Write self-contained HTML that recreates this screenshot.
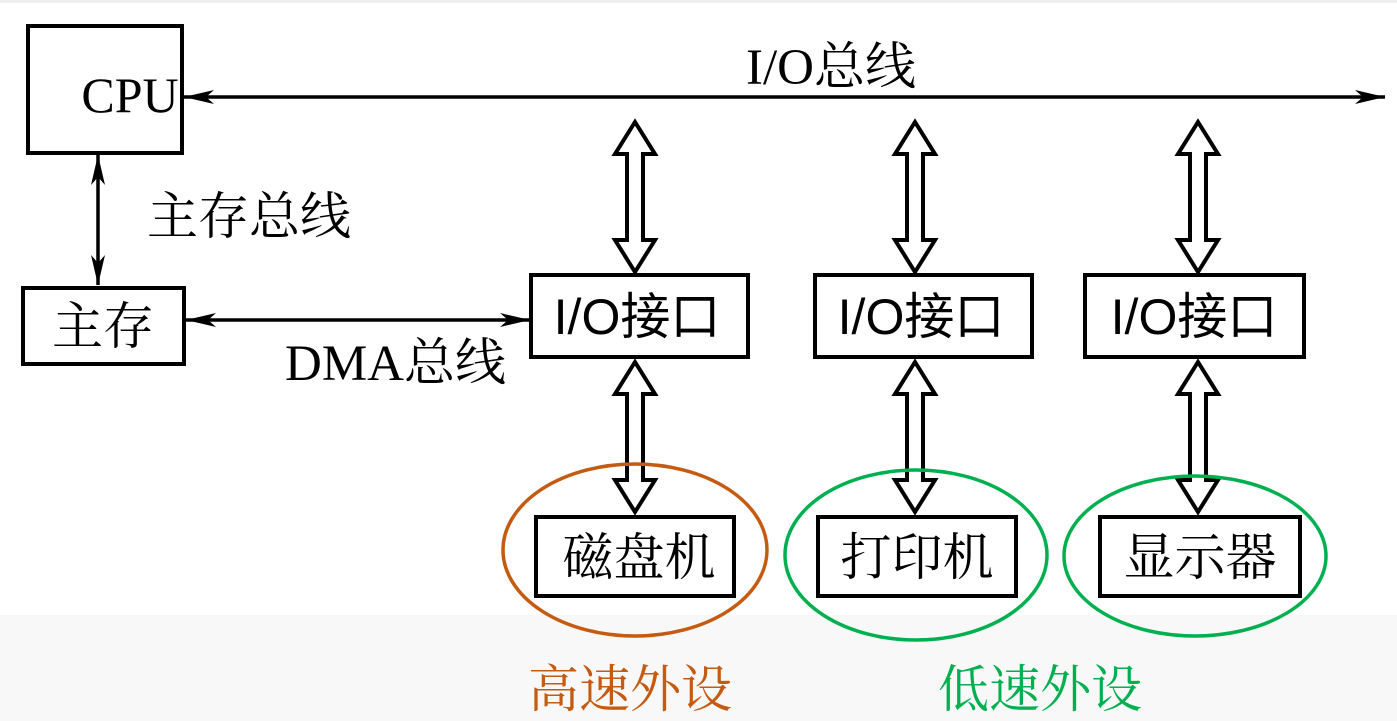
<!DOCTYPE html>
<html><head><meta charset="utf-8"><style>
html,body{margin:0;padding:0;width:1397px;height:721px;overflow:hidden;background:#fff}
svg{display:block}
.s{font-family:"Liberation Serif","Noto Serif CJK SC",serif}
.a{font-family:"Liberation Sans","Noto Sans CJK SC",sans-serif}
</style></head><body>
<svg width="1397" height="721" viewBox="0 0 1397 721">
<rect x="0" y="0" width="1397" height="721" fill="#fff"/>
<rect x="0" y="615" width="1397" height="106" fill="#f8f8f8"/>
<rect x="0" y="0" width="1397" height="3" fill="#eee"/>
<defs>
<marker id="ah" viewBox="0 0 30 14" refX="30" refY="7" markerWidth="30" markerHeight="14" markerUnits="userSpaceOnUse" orient="auto-start-reverse">
<path d="M0,0 L30,7 L0,14 L8,7 Z" fill="#000"/></marker>
<g id="dbl">
<path d="M0,0 L20,32 L8,32 L8,118 L20,118 L0,150 L-20,118 L-8,118 L-8,32 L-20,32 Z" fill="#fff" stroke="#000" stroke-width="4" stroke-linejoin="miter"/>
</g>
</defs>
<g fill="none" stroke="#000" stroke-width="4">
<rect x="28" y="26" width="154" height="127"/>
<rect x="23" y="288" width="161" height="76"/>
<rect x="531" y="275" width="217" height="82"/>
<rect x="815" y="275" width="217" height="82"/>
<rect x="1085" y="275" width="219" height="82"/>
<rect x="536" y="517" width="198" height="79"/>
<rect x="818" y="517" width="198" height="79"/>
<rect x="1100" y="517" width="200" height="79"/>
</g>
<g stroke="#000" stroke-width="3.5">
<line x1="184" y1="97" x2="1385" y2="97" marker-start="url(#ah)" marker-end="url(#ah)"/>
<line x1="98" y1="155" x2="98" y2="285" marker-start="url(#ah)" marker-end="url(#ah)"/>
<line x1="186" y1="320" x2="530" y2="320" marker-start="url(#ah)" marker-end="url(#ah)"/>
</g>
<use href="#dbl" x="635" y="122"/>
<use href="#dbl" x="915" y="122"/>
<use href="#dbl" x="1198" y="122"/>
<use href="#dbl" x="635" y="362"/>
<use href="#dbl" x="915" y="362"/>
<use href="#dbl" x="1198" y="362"/>
<ellipse cx="635" cy="550" rx="132" ry="86" fill="none" stroke="#c55a11" stroke-width="3.5"/>
<ellipse cx="916" cy="555" rx="131" ry="85" fill="none" stroke="#00b050" stroke-width="3.5"/>
<ellipse cx="1195" cy="556" rx="131" ry="80" fill="none" stroke="#00b050" stroke-width="3.5"/>
<g class="s" font-size="51" fill="#000">
<text x="134" y="112" text-anchor="middle" font-size="50" transform="translate(-4,0)">CPU</text>
<text x="103" y="344" text-anchor="middle">主存</text>
<text x="831" y="84" text-anchor="middle">I/O总线</text>
<text x="147" y="234">主存总线</text>
<text x="285" y="380">DMA总线</text>
<text x="639" y="575" text-anchor="middle">磁盘机</text>
<text x="917" y="575" text-anchor="middle">打印机</text>
<text x="1200" y="575" text-anchor="middle">显示器</text>
</g>
<g class="a" font-size="50" fill="#000">
<text x="637" y="334" text-anchor="middle">I/O接口</text>
<text x="921" y="334" text-anchor="middle">I/O接口</text>
<text x="1194" y="334" text-anchor="middle">I/O接口</text>
</g>
<g class="s" font-size="51">
<text x="630" y="707" text-anchor="middle" fill="#c55a11">高速外设</text>
<text x="1040" y="707" text-anchor="middle" fill="#00b050">低速外设</text>
</g>
</svg>
</body></html>
